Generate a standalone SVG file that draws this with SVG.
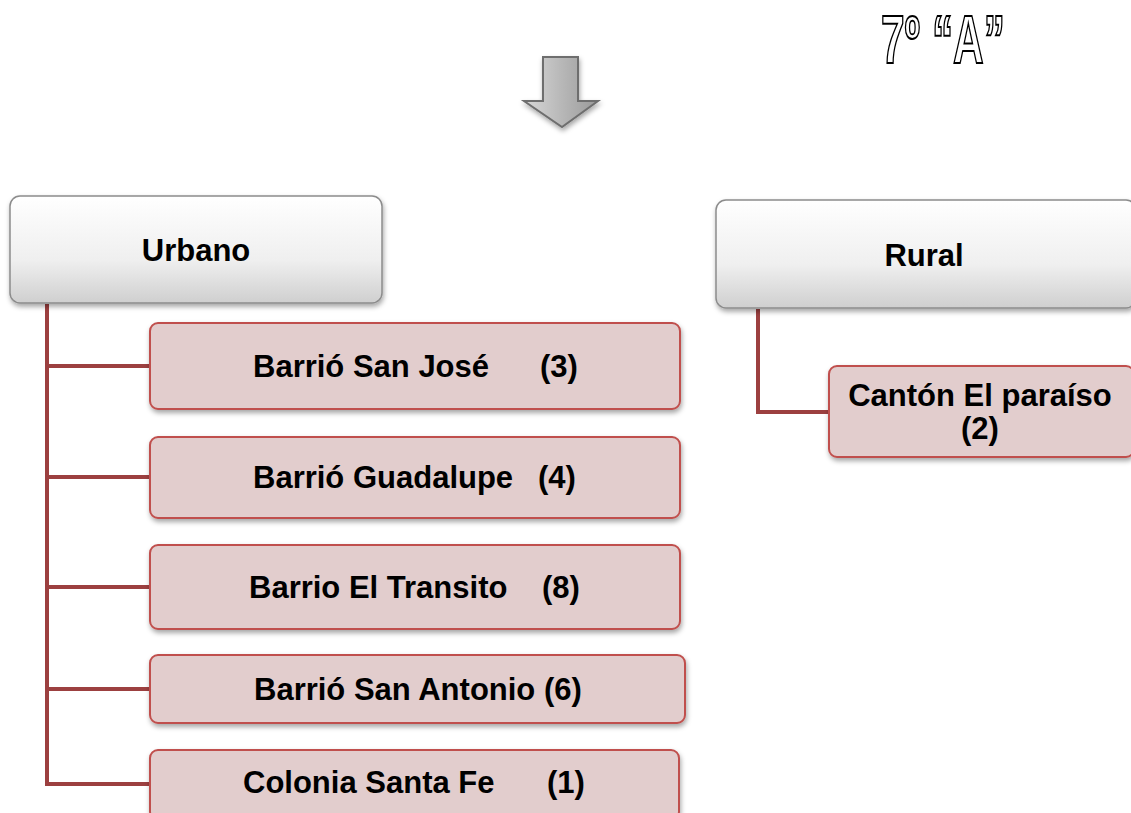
<svg xmlns="http://www.w3.org/2000/svg" width="1131" height="813" viewBox="0 0 1131 813">
<style>
.t{font-family:"Liberation Sans",Arial,sans-serif;font-weight:bold;font-size:31px;fill:#000}
.c{text-anchor:middle}
.head{stroke:#8c8c8c;stroke-width:1.5}
.child{fill:#e2cdcd;stroke:#c0504d;stroke-width:2}
.con{fill:none;stroke:#9c4040;stroke-width:4}
</style>
<defs>
<linearGradient id="gw" x1="0" y1="0" x2="0" y2="1">
<stop offset="0" stop-color="#ffffff"/><stop offset="0.6" stop-color="#efefef"/><stop offset="1" stop-color="#cfcfcf"/>
</linearGradient>
<linearGradient id="ga" x1="0" y1="0" x2="1" y2="0">
<stop offset="0" stop-color="#d8d8d8"/><stop offset="0.5" stop-color="#b8b8b8"/><stop offset="1" stop-color="#9a9a9a"/>
</linearGradient>
<filter id="sh" x="-10%" y="-20%" width="120%" height="150%">
<feDropShadow dx="1" dy="3" stdDeviation="2.5" flood-color="#000" flood-opacity="0.35"/>
</filter>
</defs>
<g id="title">
<text x="881" y="63" font-family="'Liberation Sans',Arial,sans-serif" font-weight="bold" font-size="68" fill="#fff" stroke="#000" stroke-width="2" textLength="124" lengthAdjust="spacingAndGlyphs">7º “A”</text>
</g>
<g id="arrow">
<path d="M543 57 H578 V101 H598 L562 127 L524 101 H543 Z" fill="url(#ga)" stroke="#6e6e6e" stroke-width="2" filter="url(#sh)"/>
</g>
<g id="connectors">
<path class="con" d="M47 304 V786 M45 366 H152 M45 477 H152 M45 587 H152 M45 689 H152 M45 784 H152"/>
<path class="con" d="M758 309 V412 H832"/>
</g>
<g id="urbano">
<rect x="10" y="196" width="372" height="107" rx="10" fill="url(#gw)" class="head" filter="url(#sh)"/>
<text class="t c" x="196" y="261">Urbano</text>
</g>
<g id="rural">
<rect x="716" y="200" width="420" height="108" rx="10" fill="url(#gw)" class="head" filter="url(#sh)"/>
<text class="t c" x="924" y="266">Rural</text>
</g>
<g id="sanjose">
<rect class="child" x="150" y="323" width="530" height="86" rx="8" filter="url(#sh)"/>
<text class="t" x="253" y="377">Barrió San José</text><text class="t" x="540" y="377">(3)</text>
</g>
<g id="guadalupe">
<rect class="child" x="150" y="437" width="530" height="81" rx="8" filter="url(#sh)"/>
<text class="t" x="253" y="488">Barrió Guadalupe</text><text class="t" x="538" y="488">(4)</text>
</g>
<g id="transito">
<rect class="child" x="150" y="545" width="530" height="84" rx="8" filter="url(#sh)"/>
<text class="t" x="249" y="598">Barrio El Transito</text><text class="t" x="542" y="598">(8)</text>
</g>
<g id="sanantonio">
<rect class="child" x="150" y="655" width="535" height="68" rx="8" filter="url(#sh)"/>
<text class="t" x="254" y="700">Barrió San Antonio (6)</text>
</g>
<g id="santafe">
<rect class="child" x="150" y="750" width="529" height="70" rx="8" filter="url(#sh)"/>
<text class="t" x="243" y="793">Colonia Santa Fe</text><text class="t" x="547" y="793">(1)</text>
</g>
<g id="canton">
<rect class="child" x="829" y="366" width="305" height="91" rx="8" filter="url(#sh)"/>
<text class="t c" x="980" y="406">Cantón El paraíso</text>
<text class="t c" x="980" y="439">(2)</text>
</g>
</svg>
